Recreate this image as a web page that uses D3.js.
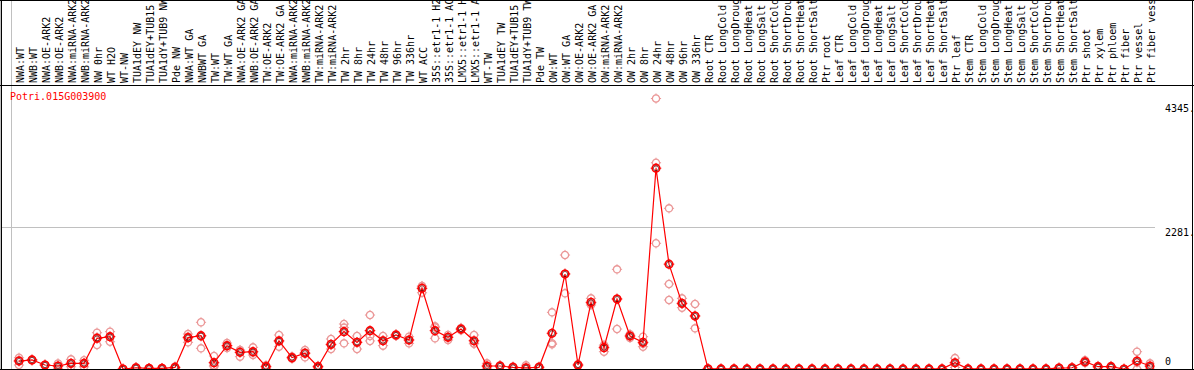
<!DOCTYPE html>
<html>
<head>
<meta charset="utf-8">
<script src="https://cdn.jsdelivr.net/npm/d3@7"></script>
<style>
  html, body { margin: 0; padding: 0; background: #fff; }
  svg { display: block; }
  text { font-family: "DejaVu Sans Mono", monospace; font-size: 10px; }
</style>
</head>
<body>
<svg id="chart" width="1194" height="370"></svg>
<script>
// gene shown
const geneId = "Potri.015G003900";

// sample names, in plot order
const categories = [
  "NWA:WT", "NWB:WT", "NWA:OE-ARK2", "NWB:OE-ARK2", "NWA:miRNA-ARK2", "NWB:miRNA-ARK2",
  "NW 0hr", "WT H2O", "WT-NW", "TUA1dEY NW", "TUA1dEY+TUB15 NW", "TUA1dY+TUB9 NW", "Pde NW",
  "NWA:WT GA", "NWBWT GA", "TW:WT", "TW:WT GA", "NWA:OE-ARK2 GA", "NWB:OE-ARK2 GA",
  "TW:OE-ARK2", "TW:OE-ARK2 GA", "NWA:miRNA-ARK2 GA", "NWB:miRNA-ARK2 GA", "TW:miRNA-ARK2",
  "TW:miRNA-ARK2 GA", "TW 2hr", "TW 8hr", "TW 24hr", "TW 48hr", "TW 96hr", "TW 336hr",
  "WT ACC", "35S::etr1-1 H2O", "35S::etr1-1 ACC", "LMX5::etr1-1 H2O", "LMX5::etr1-1 ACC",
  "WT-TW", "TUA1dEY TW", "TUA1dEY+TUB15 TW", "TUA1dY+TUB9 TW", "Pde TW",
  "OW:WT", "OW:WT GA", "OW:OE-ARK2", "OW:OE-ARK2 GA", "OW:miRNA-ARK2", "OW:miRNA-ARK2 GA",
  "OW 2hr", "OW 8hr", "OW 24hr", "OW 48hr", "OW 96hr", "OW 336hr",
  "Root CTR", "Root LongCold", "Root LongDrought", "Root LongHeat", "Root LongSalt",
  "Root ShortCold", "Root ShortDrought", "Root ShortHeat", "Root ShortSalt", "Ptr root",
  "Leaf CTR", "Leaf LongCold", "Leaf LongDrought", "Leaf LongHeat", "Leaf LongSalt",
  "Leaf ShortCold", "Leaf ShortDrought", "Leaf ShortHeat", "Leaf ShortSalt", "Ptr leaf",
  "Stem CTR", "Stem LongCold", "Stem LongDrought", "Stem LongHeat", "Stem LongSalt",
  "Stem ShortCold", "Stem ShortDrought", "Stem ShortHeat", "Stem ShortSalt", "Ptr shoot",
  "Ptr xylem", "Ptr phloem", "Ptr fiber", "Ptr vessel", "Ptr fiber vessel"
];

// how many samples sit in each block between grey separators
const groupSizes = [13, 28, 12, 10, 10, 11, 1, 1, 1, 1];

// three replicate values per sample
const rep1 = [
  180, 150, 70, 90, 155, 140, 583, 600, 0, 30, 15, 15, 40,
  562, 750, 209, 417, 305, 348, 60, 546, 200, 305, 50, 482, 723, 530, 867, 530, 560,
  519, 1333, 669, 546, 660, 546, 91, 60, 40, 60, 40,
  910, 1831, 80, 1135, 385, 1601, 560, 519, 4345, 2581, 1135, 1044,
  10, 5, 5, 5, 5, 5, 5, 5, 5, 5,
  5, 5, 5, 5, 5, 5, 5, 5, 5, 175,
  5, 5, 5, 5, 5, 5, 5, 25, 30, 140, 50,
  50, 0, 278, 91
];
const rep2 = [
  140, 140, 60, 50, 80, 95, 385, 520, 0, 20, 10, 10, 25,
  520, 523, 57, 371, 300, 260, 40, 450, 182, 265, 40, 385, 665, 433, 530, 457, 546,
  466, 1330, 686, 515, 642, 412, 40, 48, 27, 0, 27,
  415, 1531, 64, 1050, 366, 1129, 530, 407, 3313, 1365, 1045, 856,
  0, 0, 0, 0, 0, 0, 0, 0, 0, 0,
  0, 0, 0, 0, 0, 0, 0, 0, 0, 100,
  0, 0, 0, 0, 0, 0, 0, 15, 20, 115, 35,
  37, 0, 105, 40
];
const rep3 = [
  64, 145, 62, 5, 37, 35, 510, 438, 0, 10, 5, 5, 10,
  428, 332, 37, 337, 198, 225, 10, 358, 165, 187, 20, 321, 412, 321, 451, 375, 532,
  412, 1225, 493, 466, 624, 404, 13, 36, 14, 0, 14,
  396, 1216, 48, 1028, 278, 642, 500, 358, 2019, 1108, 985, 653,
  0, 0, 0, 0, 0, 0, 0, 0, 0, 0,
  0, 0, 0, 0, 0, 0, 0, 0, 0, 25,
  0, 0, 0, 0, 0, 0, 0, 5, 10, 95, 26,
  24, 0, 0, 13
];

// right-hand value labels
const yTickValues = [4345, 2281, 0];
const yTickLabels = ["4345.", "2281.", "0"];

const svg = d3.select("#chart"),
      W = 1194, H = 370,
      headerBottom = 85, plotBottom = 369,
      plotLeft = 10.5, slot = 13;

const means = categories.map((c, i) => d3.mean([rep1[i], rep2[i], rep3[i]]));
const yMax = d3.max(yTickValues) * 1.05;

const x = d3.scaleBand().domain(d3.range(categories.length))
  .range([plotLeft, plotLeft + slot * categories.length]);
const y = d3.scaleLinear().domain([0, yMax]).range([plotBottom, headerBottom]);
const cx = i => x(i) + 8.5;
const plotRight = x.range()[1];

svg.append("defs").append("clipPath").attr("id", "plotclip")
  .append("rect")
  .attr("x", 1).attr("y", headerBottom)
  .attr("width", plotRight - 1).attr("height", plotBottom - headerBottom);

// grey separators between sample blocks (full height)
const bounds = [0].concat(d3.cumsum(groupSizes));
svg.append("g").attr("shape-rendering", "crispEdges")
  .selectAll("line")
  .data(bounds)
  .join("line")
  .attr("x1", d => Math.round(plotLeft + d * slot) + 0.5)
  .attr("x2", d => Math.round(plotLeft + d * slot) + 0.5)
  .attr("y1", 0).attr("y2", H)
  .attr("stroke", "#c0c0c0").attr("stroke-width", 1);

// mid grid line
svg.append("line")
  .attr("shape-rendering", "crispEdges")
  .attr("x1", 1).attr("x2", plotRight)
  .attr("y1", Math.round(y(yMax / 2)) + 0.5).attr("y2", Math.round(y(yMax / 2)) + 0.5)
  .attr("stroke", "#c0c0c0");

// header labels
svg.append("g").selectAll("text")
  .data(categories)
  .join("text")
  .attr("transform", (d, i) => `translate(${cx(i) + 4.5},83) rotate(-90)`)
  .attr("fill", "#000")
  .text(d => d);

// frame lines
const frame = svg.append("g").attr("stroke", "#000").attr("stroke-width", 1)
  .attr("shape-rendering", "crispEdges");
frame.append("line").attr("x1", 0).attr("x2", W).attr("y1", 0.5).attr("y2", 0.5);
frame.append("line").attr("x1", 0).attr("x2", W).attr("y1", headerBottom + 0.5).attr("y2", headerBottom + 0.5);
frame.append("line").attr("x1", 0).attr("x2", W).attr("y1", plotBottom + 0.5).attr("y2", plotBottom + 0.5);
frame.append("line").attr("x1", 1.5).attr("x2", 1.5).attr("y1", 0).attr("y2", H);
frame.append("line").attr("x1", W - 1.5).attr("x2", W - 1.5).attr("y1", 0).attr("y2", H);

// gene id
svg.append("text")
  .attr("x", 10).attr("y", 100)
  .attr("fill", "#ff0000")
  .text(geneId);

// value labels on the right
const labelOffsets = [13, 9, -4];
svg.append("g").selectAll("text")
  .data(yTickValues)
  .join("text")
  .attr("x", 1165)
  .attr("y", (d, i) => y(d) + labelOffsets[i])
  .attr("fill", "#000")
  .text((d, i) => yTickLabels[i]);

const plot = svg.append("g").attr("clip-path", "url(#plotclip)");

function marker(sel, r, color, width) {
  sel.append("circle")
    .attr("r", r).attr("fill", "none")
    .attr("stroke", color).attr("stroke-width", width);
  sel.append("path")
    .attr("d", `M0,${-r - 1.5}V${-r + 0.5}M0,${r - 0.5}V${r + 1.5}M${-r - 1.5},0H${-r + 0.5}M${r - 0.5},0H${r + 1.5}`)
    .attr("stroke", color).attr("stroke-width", 1);
}

// replicates
const reps = [];
categories.forEach((c, i) => [rep1[i], rep2[i], rep3[i]].forEach(v => reps.push({ i, v })));
plot.append("g").selectAll("g")
  .data(reps)
  .join("g")
  .attr("transform", d => `translate(${cx(d.i)},${y(d.v)})`)
  .each(function () { marker(d3.select(this), 3.6, "#eb9898", 1.3); });

// mean line
plot.append("path")
  .datum(means)
  .attr("fill", "none")
  .attr("stroke", "#ff0000")
  .attr("stroke-width", 1.2)
  .attr("d", d3.line().x((d, i) => cx(i)).y(d => y(d)));

// means
const mg = plot.append("g").selectAll("g")
  .data(means)
  .join("g")
  .attr("transform", (d, i) => `translate(${cx(i)},${y(d)})`);
mg.each(function () {
  const g = d3.select(this);
  marker(g, 3.8, "#ff0000", 1.6);
  g.append("circle").attr("r", 2.6).attr("fill", "none")
    .attr("stroke", "#500").attr("stroke-width", 0.7);
});
</script>
</body>
</html>
